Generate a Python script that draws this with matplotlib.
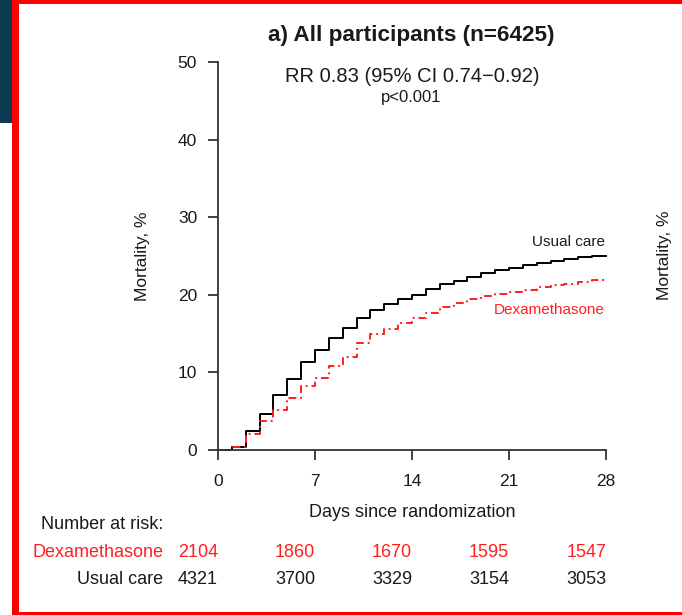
import matplotlib
matplotlib.use("Agg")
import matplotlib.pyplot as plt
from matplotlib.patches import Rectangle

plt.rcParams['font.family'] = ['Liberation Sans', 'DejaVu Sans']

# Cumulative mortality (%), one value per day 0..28
days = list(range(0, 29))
usual_care = [0, 0.4, 2.45, 4.6, 7.1, 9.1, 11.3, 12.85, 14.4, 15.7, 17.0, 18.1,
              18.85, 19.4, 20.0, 20.7, 21.35, 21.8, 22.3, 22.8, 23.2, 23.5, 23.8,
              24.05, 24.35, 24.6, 24.9, 25.0, 25.0]
dexamethasone = [0, 0.35, 2.0, 3.7, 5.2, 6.7, 8.2, 9.3, 10.8, 12.0, 13.75, 15.0,
                 15.6, 16.4, 17.05, 17.7, 18.4, 19.0, 19.4, 19.85, 20.05, 20.3,
                 20.6, 21.0, 21.2, 21.4, 21.65, 21.9, 21.9]

x_ticks = [0, 7, 14, 21, 28]
y_ticks = [0, 10, 20, 30, 40, 50]
risk_dexa = [2104, 1860, 1670, 1595, 1547]
risk_usual = [4321, 3700, 3329, 3154, 3053]

W, H = 682, 615
RED = '#ff1f1f'
INK = '#1a1a1a'


def fx(px):
    return px / W


def fy(py):
    return 1 - py / H


fig = plt.figure(figsize=(W / 100, H / 100), dpi=100)
ax = fig.add_axes([fx(218), fy(450), fx(606) - fx(218), fy(62) - fy(450)])

ax.step(days, usual_care, where='post', color='black', lw=1.4, clip_on=False)
ax.step(days, dexamethasone, where='post', color=RED, lw=1.4,
        linestyle=(0, (4, 2, 1, 2)), clip_on=False)

ax.set_xlim(0, 28)
ax.set_ylim(0, 50)
ax.set_xticks(x_ticks)
ax.set_yticks(y_ticks)
for side in ['top', 'right']:
    ax.spines[side].set_visible(False)
for side in ['left', 'bottom']:
    ax.spines[side].set_linewidth(1.3)
    ax.spines[side].set_color('#333333')
ax.tick_params(axis='both', direction='out', length=7, width=1.3,
               color='#333333', labelsize=12.5, labelcolor=INK)
ax.tick_params(axis='y', pad=8)
ax.tick_params(axis='x', pad=10)

# curve labels
fig.text(fx(605), fy(246), 'Usual care', ha='right', va='baseline',
         fontsize=11, color=INK)
fig.text(fx(605), fy(314), 'Dexamethasone', ha='right', va='baseline',
         fontsize=11, color=RED)

# titles
fig.text(fx(411), fy(41), 'a) All participants (n=6425)', ha='center',
         va='baseline', fontsize=16.2, fontweight='bold', color=INK)
fig.text(fx(412), fy(82), 'RR 0.83 (95% CI 0.74\u22120.92)', ha='center',
         va='baseline', fontsize=14.5, color=INK)
fig.text(fx(411), fy(102), 'p<0.001', ha='center', va='baseline',
         fontsize=12, color=INK)

# axis labels
fig.text(fx(412), fy(517), 'Days since randomization', ha='center',
         va='baseline', fontsize=13, color=INK)
fig.text(fx(142), fy(256), 'Mortality, %', ha='center', va='center',
         rotation=90, fontsize=12.5, color=INK)
fig.text(fx(664), fy(255), 'Mortality, %', ha='center', va='center',
         rotation=90, fontsize=12.5, color=INK)

# number at risk table
fig.text(fx(163), fy(529), 'Number at risk:', ha='right', va='baseline',
         fontsize=13, color=INK)
fig.text(fx(163), fy(557), 'Dexamethasone', ha='right', va='baseline',
         fontsize=13, color=RED)
fig.text(fx(163), fy(584), 'Usual care', ha='right', va='baseline',
         fontsize=13, color=INK)
for d, nd, nu in zip(x_ticks, risk_dexa, risk_usual):
    xp = fx(218 + d * (606 - 218) / 28)
    fig.text(xp, fy(557), str(nd), ha='right', va='baseline',
             fontsize=13, color=RED)
    fig.text(xp, fy(584), str(nu), ha='right', va='baseline',
             fontsize=13, color=INK)

# frame around the panel
fig.add_artist(Rectangle((0, fy(123)), fx(12), fy(0) - fy(123),
                         transform=fig.transFigure, color='#0b3b50', lw=0))
fig.add_artist(Rectangle((fx(12), 0), fx(7), 1,
                         transform=fig.transFigure, color='#ff0000', lw=0))
fig.add_artist(Rectangle((fx(12), fy(4)), 1, fy(0) - fy(4),
                         transform=fig.transFigure, color='#ff0000', lw=0))
fig.add_artist(Rectangle((fx(12), 0), 1, fy(612),
                         transform=fig.transFigure, color='#ff0000', lw=0))

fig.savefig('out.png', dpi=100)
